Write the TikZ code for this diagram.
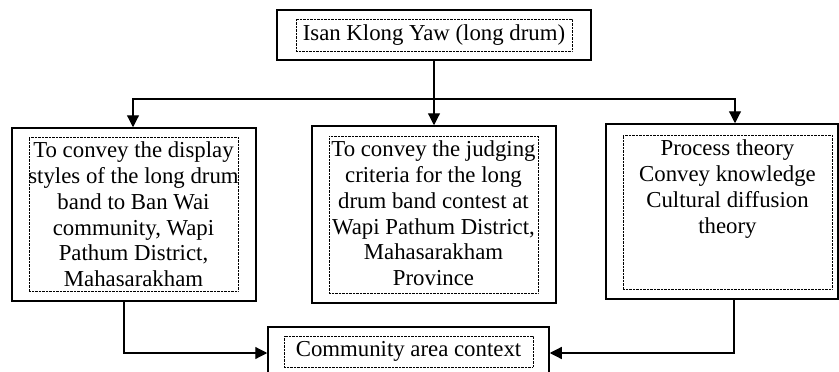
\documentclass[tikz,border=0pt]{standalone}
\usepackage{fontspec}
\setmainfont{Liberation Serif}
\usetikzlibrary{arrows.meta}
\tikzset{
  outerbox/.style={draw, line width=1.5pt, inner sep=0pt},
  innerbox/.style={draw, line width=0.5pt, dash pattern=on 0.7pt off 0.7pt, inner sep=0pt},
  boxfont/.style={font=\fontsize{22.8}{25.8}\selectfont, align=center},
  boxtext/.style={boxfont, inner sep=0pt, anchor=north},
  arr/.style={line width=1.2pt, -{Triangle[length=12pt,width=12pt]}}
}
\begin{document}
\begin{tikzpicture}[x=1pt,y=1pt]
  \useasboundingbox (0,0) rectangle (839,-372);

  \node[outerbox, minimum width=314pt, minimum height=50pt] (top) at (434,-35) {};
  \node[innerbox, boxfont, minimum width=276pt, minimum height=32pt] (topin) at (434,-35) {Isan Klong Yaw (long drum)};

  \node[outerbox, minimum width=244pt, minimum height=173pt] (left) at (134,-214.5) {};
  \node[innerbox, minimum width=209pt, minimum height=154pt] (leftin) at (133.5,-214) {};
  \node[boxtext] (lefttext) at ([yshift=-5pt]leftin.north) {To convey the display\\styles of the long drum\\band to Ban Wai\\community, Wapi\\Pathum District,\\Mahasarakham};

  \node[outerbox, minimum width=244pt, minimum height=177pt] (mid) at (434,-214.5) {};
  \node[innerbox, minimum width=209pt, minimum height=157pt] (midin) at (433.5,-214.5) {};
  \node[boxtext] (midtext) at ([yshift=-5pt]midin.north) {To convey the judging\\criteria for the long\\drum band contest at\\Wapi Pathum District,\\Mahasarakham\\Province};

  \node[outerbox, minimum width=232pt, minimum height=175pt] (right) at (722,-211.5) {};
  \node[innerbox, minimum width=209pt, minimum height=154pt] (rightin) at (727.5,-212) {};
  \node[boxtext] (righttext) at ([yshift=-5pt]rightin.north) {Process theory\\Convey knowledge\\Cultural diffusion\\theory};

  \node[outerbox, minimum width=281pt, minimum height=52pt] (bottom) at (408.5,-353) {};
  \node[innerbox, boxfont, minimum width=249pt, minimum height=31pt] (bottomin) at (408.5,-351.5) {Community area context};

  \coordinate (split) at (434,-99);
  \draw[line width=1.2pt] (top.south) -- (split);
  \draw[arr] (split) -| ([xshift=-1pt]left.north);
  \draw[arr] (split) -- (mid.north);
  \draw[arr] (split) -| ([xshift=13pt]right.north);

  \draw[arr] ([xshift=-10pt]left.south) |- (bottom.west);
  \draw[arr] ([xshift=12pt]right.south) |- (bottom.east);
\end{tikzpicture}
\end{document}
